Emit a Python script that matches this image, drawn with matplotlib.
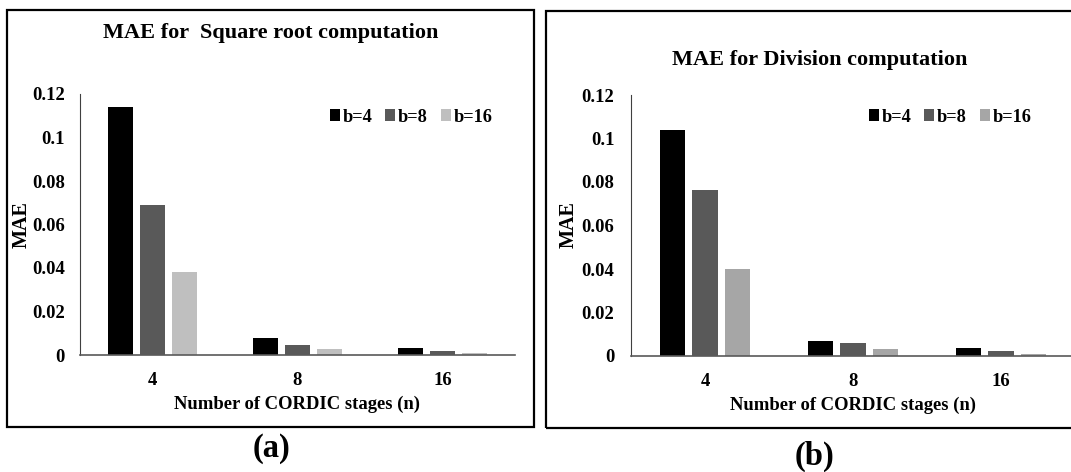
import matplotlib.pyplot as plt
from matplotlib.patches import Rectangle

plt.rcParams['font.family'] = ['Liberation Serif', 'DejaVu Serif']
plt.rcParams['font.weight'] = 'bold'

stages = ['4', '8', '16']
series = ['b=4', 'b=8', 'b=16']
yticks = [0, 0.02, 0.04, 0.06, 0.08, 0.1, 0.12]
ytick_labels = ['0', '0.02', '0.04', '0.06', '0.08', '0.1', '0.12']

# MAE, square root (a)
sqrt_b4 = [0.1139, 0.0080, 0.0031]
sqrt_b8 = [0.0690, 0.0047, 0.0020]
sqrt_b16 = [0.0380, 0.0028, 0.0011]

# MAE, division (b)
div_b4 = [0.1040, 0.0067, 0.0038]
div_b8 = [0.0762, 0.0060, 0.0023]
div_b16 = [0.0400, 0.0031, 0.0011]

W, H = 1071, 472
fig = plt.figure(figsize=(W / 100, H / 100), dpi=100)


def px(x0, y0, x1, y1):
    # pixel box (top-left origin) -> figure fraction rect
    return [x0 / W, 1 - y1 / H, (x1 - x0) / W, (y1 - y0) / H]


def panel(rect, data, colors, title, title_x, title_y, leg_x, leg_y, ypad):
    ax = fig.add_axes(rect)
    pitch = 0.22
    width = 0.172
    for i, (vals, c, lab) in enumerate(zip(data, colors, series)):
        pos = [k + (i - 1) * pitch for k in range(len(stages))]
        ax.bar(pos, vals, width=width, color=c, label=lab)
    ax.set_xlim(-0.5, 2.5)
    ax.set_ylim(0, 0.12)
    ax.set_yticks(yticks)
    ax.set_yticklabels(ytick_labels, fontsize=13.4, fontweight='bold')
    ax.set_xticks(range(len(stages)))
    ax.set_xticklabels(stages, fontsize=13.4, fontweight='bold')
    ax.tick_params(length=0)
    ax.tick_params(axis='y', pad=ypad)
    ax.tick_params(axis='x', pad=12)
    for s in ['top', 'right']:
        ax.spines[s].set_visible(False)
    ax.spines['left'].set_color('#404040')
    ax.spines['left'].set_linewidth(0.8)
    ax.spines['bottom'].set_color('#595959')
    ax.spines['bottom'].set_linewidth(1.2)
    ax.set_xlabel('Number of CORDIC stages (n)', fontsize=13.4, fontweight='bold', labelpad=5)
    ax.legend(loc='center', bbox_to_anchor=(leg_x / W, 1 - leg_y / H), bbox_transform=fig.transFigure,
              ncol=3, frameon=False, handlelength=0.55, handleheight=0.55,
              handletextpad=0.15, columnspacing=0.7, prop={'weight': 'bold', 'size': 13.2})
    fig.text(title_x / W, 1 - title_y / H, title, ha='center', va='center', fontsize=16, fontweight='bold')
    return ax


ax1 = panel(px(80, 94, 515, 355), [sqrt_b4, sqrt_b8, sqrt_b16], ['#000000', '#595959', '#bfbfbf'],
            'MAE for  Square root computation', 271, 33, 411, 117, 11)
ax2 = panel(px(631, 95, 1075, 356), [div_b4, div_b8, div_b16], ['#000000', '#595959', '#a6a6a6'],
            'MAE for Division computation', 820, 60, 950, 117, 12)

fig.text(22 / W, 1 - 225 / H, 'MAE', rotation=90, ha='center', va='center', fontsize=14.5, fontweight='bold')
fig.text(569 / W, 1 - 225 / H, 'MAE', rotation=90, ha='center', va='center', fontsize=14.5, fontweight='bold')

for x0, y0, x1, y1 in [(7, 10, 534, 427), (546, 11, 1078, 428)]:
    fig.patches.append(Rectangle((x0 / W, 1 - y1 / H), (x1 - x0) / W, (y1 - y0) / H,
                                 transform=fig.transFigure, fill=False, edgecolor='black', linewidth=1.6))

fig.text(272 / W, 1 - 449 / H, '(a)', ha='center', va='center', fontsize=23.5, fontweight='bold')
fig.text(815 / W, 1 - 456 / H, '(b)', ha='center', va='center', fontsize=23.5, fontweight='bold')

fig.savefig('out.png', dpi=100)
